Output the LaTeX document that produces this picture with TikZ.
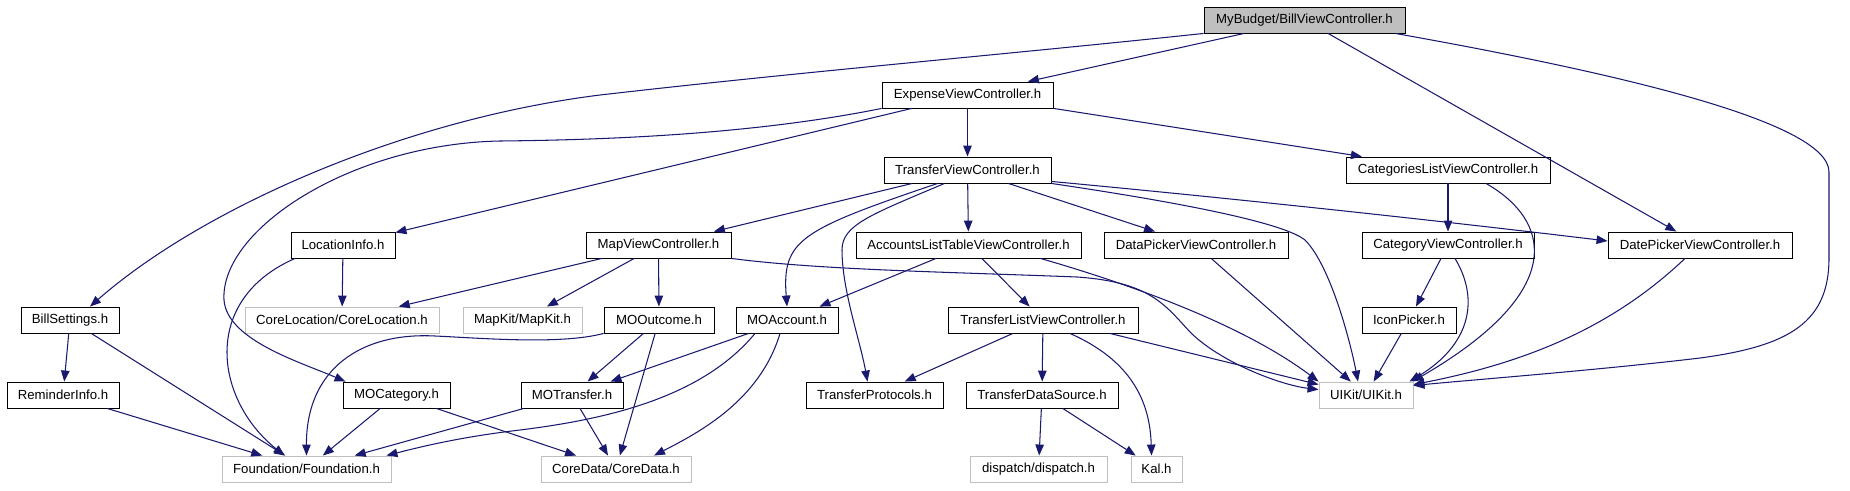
\documentclass[tikz,border=0pt]{standalone}
\usepackage{fontspec}
\setmainfont{Liberation Sans}
\usetikzlibrary{arrows.meta}
\definecolor{edgeblue}{HTML}{191970}
\definecolor{extgray}{HTML}{BFBFBF}
\begin{document}
\begin{tikzpicture}[x=1pt,y=-1pt,
  box/.style={draw=black,line width=0.9pt,minimum height=26pt,inner sep=0pt,font=\fontsize{13.2}{15}\selectfont,anchor=center},
  ext/.style={box,draw=extgray},
  root/.style={box,fill=extgray},
  e/.style={draw=edgeblue,line width=1.05pt,-{Triangle[length=11pt,width=8.5pt]}}
]
\useasboundingbox (0,0) rectangle (1850,490);
% row 0
\node[root,minimum width=201pt] (bill) at (1304.5,20) {MyBudget/BillViewController.h};
% row 1
\node[box,minimum width=171pt] (expense) at (967.5,95) {ExpenseViewController.h};
% row 2
\node[box,minimum width=167pt] (transfer) at (967.5,170) {TransferViewController.h};
\node[box,minimum width=204pt] (catlist) at (1448,170) {CategoriesListViewController.h};
% row 3
\node[box,minimum width=104pt] (location) at (343,245) {LocationInfo.h};
\node[box,minimum width=145pt] (mapvc) at (658.5,245) {MapViewController.h};
\node[box,minimum width=225pt] (accounts) at (968.5,245) {AccountsListTableViewController.h};
\node[box,minimum width=184pt] (datapicker) at (1196,245) {DataPickerViewController.h};
\node[box,minimum width=172pt] (category) at (1448,245) {CategoryViewController.h};
\node[box,minimum width=184pt] (datepicker) at (1700,245) {DatePickerViewController.h};
% row 4
\node[box,minimum width=98pt] (billsettings) at (70,320) {BillSettings.h};
\node[ext,minimum width=194pt] (corelocation) at (342,320) {CoreLocation/CoreLocation.h};
\node[ext,minimum width=119pt] (mapkit) at (522.5,320) {MapKit/MapKit.h};
\node[box,minimum width=110pt] (mooutcome) at (659,320) {MOOutcome.h};
\node[box,minimum width=102pt] (moaccount) at (787,320) {MOAccount.h};
\node[box,minimum width=190pt] (transferlist) at (1043,320) {TransferListViewController.h};
\node[box,minimum width=94pt] (iconpicker) at (1409,320) {IconPicker.h};
% row 5
\node[box,minimum width=112pt] (reminder) at (63,395) {ReminderInfo.h};
\node[box,minimum width=107pt] (mocategory) at (396.5,395) {MOCategory.h};
\node[box,minimum width=102pt] (motransfer) at (572,395) {MOTransfer.h};
\node[box,minimum width=137pt] (protocols) at (874.5,395) {TransferProtocols.h};
\node[box,minimum width=152pt] (datasource) at (1042,395) {TransferDataSource.h};
\node[ext,minimum width=94pt] (uikit) at (1366,395) {UIKit/UIKit.h};
% row 6
\node[ext,minimum width=169pt] (foundation) at (306.5,469) {Foundation/Foundation.h};
\node[ext,minimum width=150pt] (coredata) at (616,469) {CoreData/CoreData.h};
\node[ext,minimum width=137pt] (dispatch) at (1038.5,469) {dispatch/dispatch.h};
\node[ext,minimum width=51pt] (kal) at (1156.5,469) {Kal.h};

% edges from bill
\draw[e] (bill) -- (expense);
\draw[e] (bill) -- (datepicker);
\draw[e] (bill.south west) .. controls (1000,55) and (800,72) .. (600,95) .. controls (400,120) and (200,210) .. ([xshift=20pt]billsettings.north);
\draw[e] ([xshift=-10pt]bill.south east) .. controls (1600,70) and (1829,120) .. (1829,172) -- (1829,258) .. controls (1829,322) and (1790,346) .. (1700,358) .. controls (1600,370) and (1470,380) .. ([yshift=-4pt]uikit.north east);
% edges from expense
\draw[e] (expense) -- (transfer);
\draw[e] (expense) -- (catlist);
\draw[e] (expense) -- (location);
\draw[e] (expense.south west) .. controls (750,135) and (600,140) .. (500,141) .. controls (350,144) and (220,230) .. (224,300) .. controls (227,340) and (300,362) .. ([xshift=3pt]mocategory.north west);
% edges from transfer
\draw[e] (transfer) -- (mapvc);
\draw[e] (transfer) -- (accounts);
\draw[e] (transfer) -- (datapicker);
\draw[e] ([xshift=-30pt]transfer.south) .. controls (800,230) and (782,240) .. (moaccount.north);
\draw[e] ([xshift=-23pt]transfer.south) .. controls (870,215) and (842,225) .. (842,250) .. controls (842,290) and (860,340) .. ([xshift=-7pt]protocols.north);
\draw[e] (transfer.south east) .. controls (1150,198) and (1280,220) .. (1305,240) .. controls (1330,265) and (1350,340) .. ([xshift=-8pt]uikit.north);
\draw[e] ([yshift=2pt]transfer.south east) .. controls (1250,200) and (1450,222) .. ([yshift=4pt]datepicker.west);
% edges from catlist
\draw[e] (catlist) -- (category);
\draw[e] ([xshift=38pt]catlist.south) .. controls (1550,220) and (1570,290) .. ([xshift=-1pt]uikit.north east);
% row 3 sources
\draw[e] (location) -- (corelocation);
\draw[e] ([xshift=-48pt]location.south) .. controls (200,300) and (215,400) .. ([xshift=-22pt]foundation.north);
\draw[e] (mapvc) -- (corelocation);
\draw[e] (mapvc) -- (mapkit);
\draw[e] (mapvc) -- (mooutcome);
\draw[e] (mapvc.south east) .. controls (820,270) and (950,272) .. (1077,277) .. controls (1150,282) and (1165,305) .. (1190,332) .. controls (1220,362) and (1280,385) .. ([yshift=-8pt]uikit.north west);
\draw[e] (accounts) -- (moaccount);
\draw[e] (accounts) -- (transferlist);
\draw[e] ([xshift=72pt]accounts.south) .. controls (1150,290) and (1250,330) .. (uikit.north west);
\draw[e] (datapicker) -- (uikit);
\draw[e] (category) -- (iconpicker);
\draw[e] ([xshift=7pt]category.south) .. controls (1480,300) and (1470,345) .. ([xshift=-4pt]uikit.north east);
\draw[e] ([xshift=-15pt]datepicker.south) .. controls (1620,320) and (1540,360) .. ([yshift=-3pt]uikit.north east);
% row 4 sources
\draw[e] (billsettings) -- (reminder);
\draw[e] (billsettings) -- (foundation);
\draw[e] (mooutcome.south west) .. controls (560,345) and (480,338) .. (435,336) .. controls (360,332) and (306,370) .. (foundation.north);
\draw[e] (mooutcome) -- (motransfer);
\draw[e] (mooutcome) -- (coredata);
\draw[e] (moaccount) -- (motransfer);
\draw[e] ([xshift=-32pt]moaccount.south) .. controls (700,400) and (600,420) .. (520,430) .. controls (460,437) and (420,447) .. ([xshift=-5pt]foundation.north east);
\draw[e] ([xshift=-7pt]moaccount.south) .. controls (760,400) and (700,432) .. ([xshift=38pt]coredata.north);
\draw[e] (transferlist) -- (protocols);
\draw[e] (transferlist) -- (datasource);
\draw[e] ([xshift=27pt]transferlist.south) .. controls (1130,360) and (1150,400) .. ([xshift=-5pt]kal.north);
\draw[e] ([xshift=67pt]transferlist.south) -- ([yshift=-3pt]uikit.north west);
\draw[e] (iconpicker) -- (uikit);
% row 5 sources
\draw[e] (reminder) -- (foundation);
\draw[e] (mocategory) -- (foundation);
\draw[e] (mocategory) -- (coredata);
\draw[e] (motransfer) -- (foundation);
\draw[e] (motransfer) -- (coredata);
\draw[e] (datasource) -- (dispatch);
\draw[e] (datasource) -- (kal);
\end{tikzpicture}
\end{document}
